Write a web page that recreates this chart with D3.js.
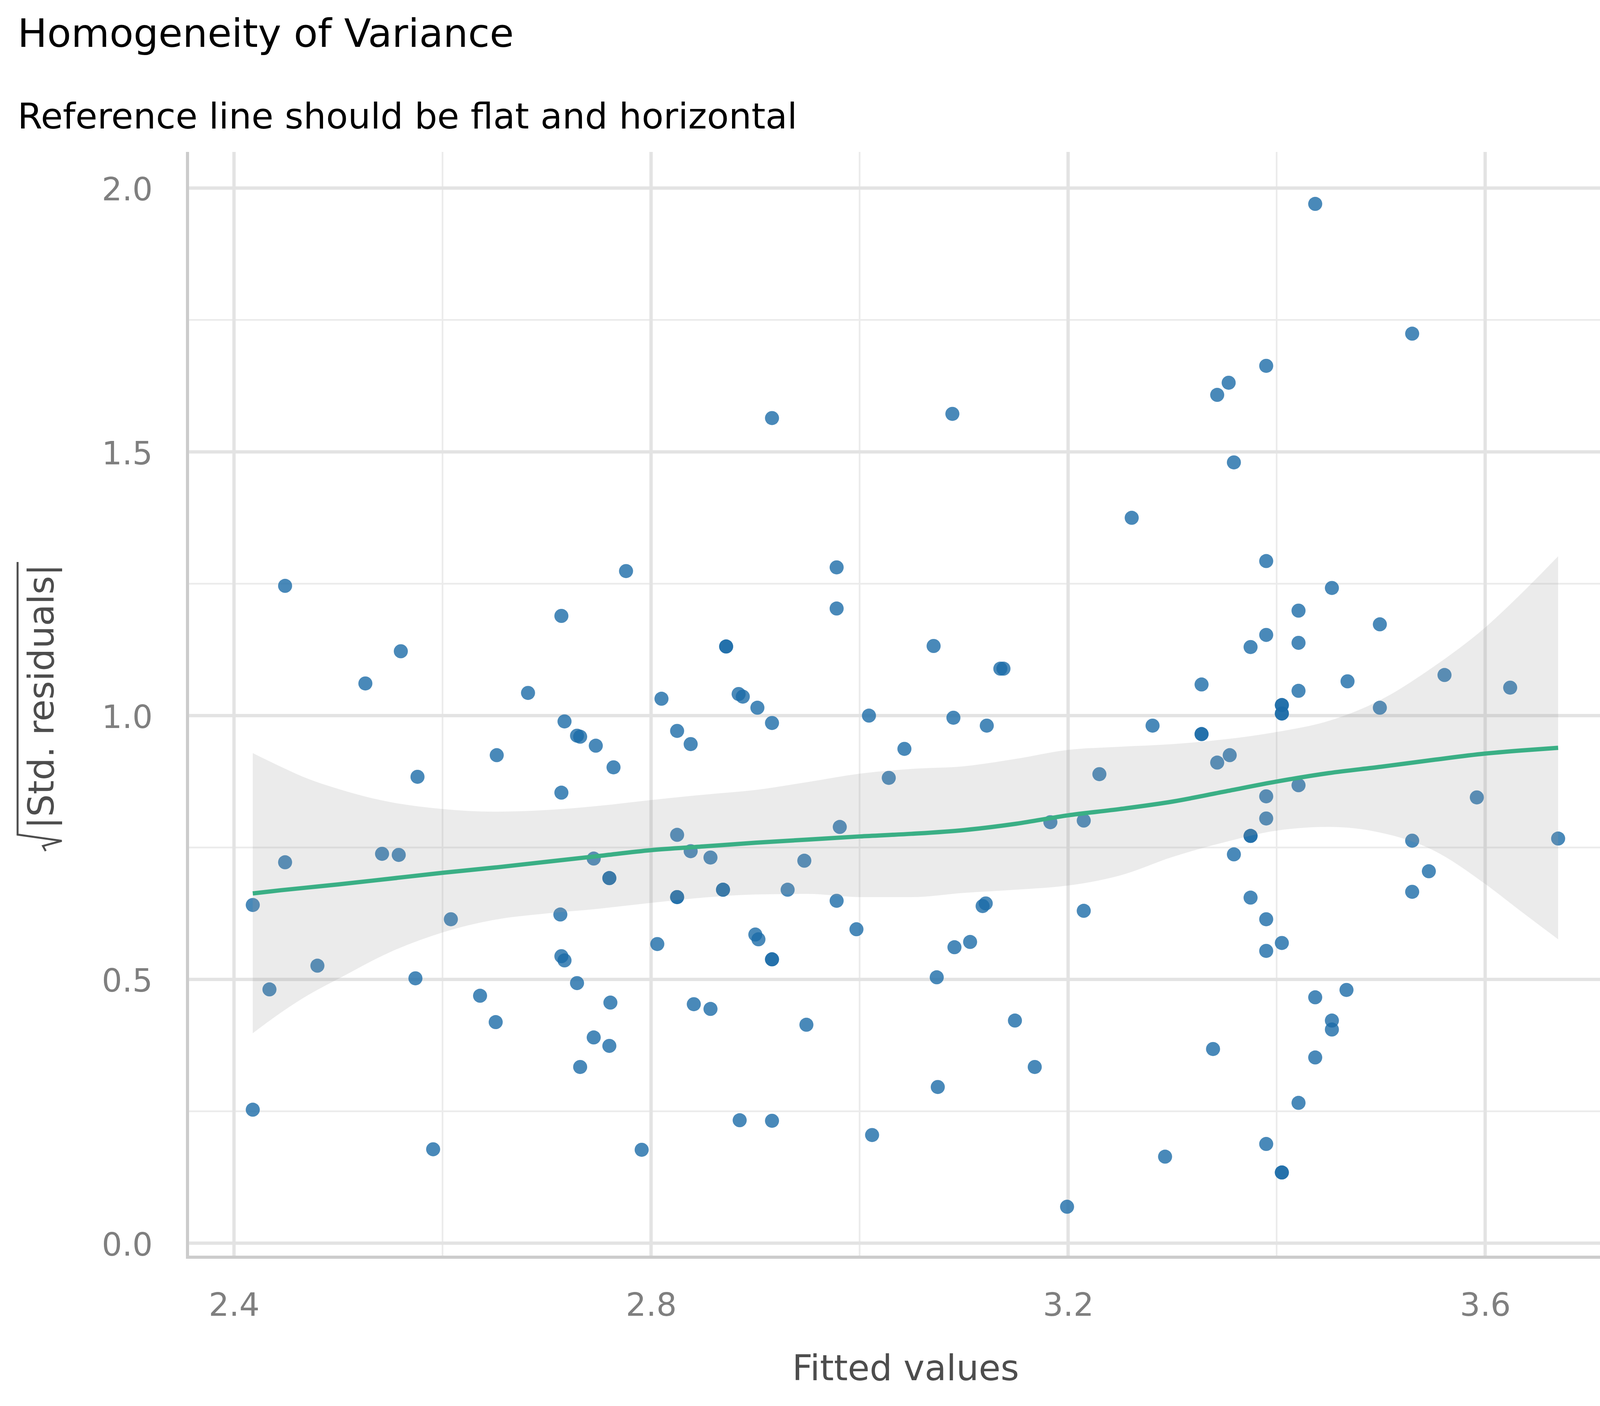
<!DOCTYPE html>
<html>
<head>
<meta charset="utf-8">
<script src="https://cdn.jsdelivr.net/npm/d3@7"></script>
<style>
  html, body { margin: 0; padding: 0; background: #ffffff; }
  svg { display: block; }
</style>
</head>
<body>
<script>
// ---------------- data ----------------
const fittedValues = [
  2.418, 2.418, 2.434, 2.449, 2.449, 2.480, 2.526, 2.542, 2.558, 2.560,
  2.574, 2.576, 2.591, 2.608, 2.636, 2.652, 2.651, 2.682, 2.714, 2.714,
  2.713, 2.714, 2.717, 2.717, 2.729, 2.732, 2.729, 2.732, 2.745, 2.745,
  2.747, 2.760, 2.760, 2.761, 2.760, 2.764, 2.776, 2.791, 2.806, 2.810,
  2.825, 2.825, 2.825, 2.825, 2.838, 2.838, 2.841, 2.857, 2.857, 2.869,
  2.869, 2.872, 2.872, 2.884, 2.888, 2.885, 2.900, 2.902, 2.903, 2.916,
  2.916, 2.916, 2.916, 2.916, 2.931, 2.947, 2.949, 2.978, 2.978, 2.978,
  2.981, 2.997, 3.009, 3.012, 3.028, 3.043, 3.071, 3.074, 3.075, 3.089,
  3.090, 3.091, 3.106, 3.118, 3.121, 3.122, 3.135, 3.138, 3.149, 3.168,
  3.183, 3.199, 3.215, 3.215, 3.230, 3.261, 3.281, 3.293, 3.328, 3.328,
  3.328, 3.339, 3.343, 3.343, 3.354, 3.355, 3.359, 3.359, 3.375, 3.375,
  3.375, 3.375, 3.390, 3.390, 3.390, 3.390, 3.390, 3.390, 3.390, 3.390,
  3.405, 3.405, 3.405, 3.405, 3.405, 3.405, 3.405, 3.421, 3.421, 3.421,
  3.421, 3.421, 3.437, 3.437, 3.437, 3.453, 3.453, 3.453, 3.468, 3.467,
  3.499, 3.499, 3.530, 3.530, 3.530, 3.546, 3.561, 3.592, 3.624, 3.670
];
const sqrtStdResiduals = [
  0.641, 0.253, 0.481, 1.246, 0.722, 0.526, 1.061, 0.738, 0.736, 1.122,
  0.502, 0.884, 0.178, 0.614, 0.469, 0.925, 0.419, 1.043, 1.189, 0.854,
  0.623, 0.544, 0.989, 0.536, 0.962, 0.960, 0.493, 0.334, 0.390, 0.729,
  0.943, 0.692, 0.692, 0.456, 0.374, 0.902, 1.274, 0.177, 0.567, 1.032,
  0.774, 0.971, 0.656, 0.656, 0.946, 0.743, 0.453, 0.731, 0.444, 0.670,
  0.670, 1.131, 1.131, 1.041, 1.036, 0.233, 0.585, 1.015, 0.576, 1.564,
  0.986, 0.538, 0.538, 0.232, 0.670, 0.725, 0.414, 1.281, 1.203, 0.649,
  0.789, 0.595, 1.000, 0.205, 0.882, 0.937, 1.132, 0.504, 0.296, 1.572,
  0.996, 0.561, 0.571, 0.639, 0.644, 0.981, 1.089, 1.089, 0.422, 0.334,
  0.798, 0.069, 0.801, 0.630, 0.889, 1.375, 0.981, 0.164, 1.059, 0.965,
  0.965, 0.368, 1.608, 0.911, 1.631, 0.925, 1.480, 0.737, 1.130, 0.772,
  0.772, 0.655, 1.663, 1.293, 1.153, 0.847, 0.805, 0.614, 0.554, 0.188,
  1.020, 1.020, 1.004, 1.004, 0.569, 0.134, 0.134, 1.199, 1.138, 1.047,
  0.868, 0.266, 1.970, 0.466, 0.352, 1.242, 0.422, 0.405, 1.065, 0.480,
  1.173, 1.015, 1.724, 0.763, 0.666, 0.705, 1.077, 0.845, 1.053, 0.767
];

// loess smooth
const smoothX    = [2.418, 2.445, 2.47, 2.5, 2.55, 2.6, 2.65, 2.7, 2.75, 2.8, 2.85, 2.9, 2.95, 3.0, 3.05, 3.1, 3.15, 3.2, 3.25, 3.3, 3.35, 3.4, 3.45, 3.5, 3.55, 3.6, 3.635, 3.67];
const smoothFit  = [0.663, 0.669, 0.674, 0.680, 0.691, 0.702, 0.712, 0.723, 0.734, 0.745, 0.752, 0.759, 0.765, 0.771, 0.776, 0.783, 0.795, 0.811, 0.823, 0.837, 0.856, 0.875, 0.891, 0.903, 0.916, 0.928, 0.934, 0.939];
const smoothLow  = [0.398, 0.437, 0.469, 0.501, 0.552, 0.589, 0.613, 0.625, 0.634, 0.645, 0.655, 0.661, 0.662, 0.656, 0.656, 0.664, 0.670, 0.678, 0.697, 0.732, 0.760, 0.782, 0.789, 0.778, 0.745, 0.681, 0.628, 0.576];
const smoothHigh = [0.929, 0.903, 0.881, 0.861, 0.836, 0.823, 0.818, 0.821, 0.829, 0.840, 0.850, 0.859, 0.874, 0.890, 0.899, 0.904, 0.918, 0.935, 0.941, 0.946, 0.955, 0.969, 0.990, 1.030, 1.092, 1.167, 1.232, 1.302];

const xMajorTicks = [2.4, 2.8, 3.2, 3.6];
const xMinorTicks = [2.6, 3.0, 3.4];
const yMajorTicks = [0.0, 0.5, 1.0, 1.5, 2.0];
const yMinorTicks = [0.25, 0.75, 1.25, 1.75];

const titleText = "Homogeneity of Variance";
const subtitleText = "Reference line should be flat and horizontal";
const xTitleText = "Fitted values";
const yTitleText = "|Std. residuals|";

// ---------------- layout ----------------
const W = 4200, H = 3600;
const panel = { left: 480, right: 4157, top: 389, bottom: 3219 };
const xDomain = [2.3554, 3.7330];
const yDomain = [-0.0266, 2.0685];
const FONT = "'DejaVu Sans', 'Liberation Sans', sans-serif";

const svg = d3.select("body").append("svg")
  .attr("width", W).attr("height", H)
  .attr("viewBox", `0 0 ${W} ${H}`);

svg.append("rect").attr("width", W).attr("height", H).attr("fill", "#ffffff");

const x = d3.scaleLinear().domain(xDomain).range([panel.left, panel.right]);
const y = d3.scaleLinear().domain(yDomain).range([panel.bottom, panel.top]);

// ---------------- grid ----------------
const grid = svg.append("g");
grid.selectAll("line.xminor").data(xMinorTicks).join("line")
  .attr("x1", d => x(d)).attr("x2", d => x(d))
  .attr("y1", panel.top).attr("y2", panel.bottom)
  .attr("stroke", "#ebebeb").attr("stroke-width", 4.3);
grid.selectAll("line.yminor").data(yMinorTicks).join("line")
  .attr("x1", panel.left).attr("x2", panel.right)
  .attr("y1", d => y(d)).attr("y2", d => y(d))
  .attr("stroke", "#ebebeb").attr("stroke-width", 4.3);
grid.selectAll("line.xmajor").data(xMajorTicks).join("line")
  .attr("x1", d => x(d)).attr("x2", d => x(d))
  .attr("y1", panel.top).attr("y2", panel.bottom)
  .attr("stroke", "#e3e3e3").attr("stroke-width", 8.5);
grid.selectAll("line.ymajor").data(yMajorTicks).join("line")
  .attr("x1", panel.left).attr("x2", panel.right)
  .attr("y1", d => y(d)).attr("y2", d => y(d))
  .attr("stroke", "#e3e3e3").attr("stroke-width", 8.5);

// ---------------- points ----------------
const pts = fittedValues.map((v, i) => ({ fx: v, r: sqrtStdResiduals[i] }));
svg.append("g").selectAll("circle").data(pts).join("circle")
  .attr("cx", d => x(d.fx)).attr("cy", d => y(d.r))
  .attr("r", 18)
  .attr("fill", "#1b6ca8").attr("fill-opacity", 0.8);

// ---------------- smooth ----------------
const smooth = smoothX.map((v, i) => ({ sx: v, fit: smoothFit[i], lo: smoothLow[i], hi: smoothHigh[i] }));
svg.append("path").datum(smooth)
  .attr("d", d3.area().x(d => x(d.sx)).y0(d => y(d.lo)).y1(d => y(d.hi)).curve(d3.curveMonotoneX))
  .attr("fill", "#999999").attr("fill-opacity", 0.2);
svg.append("path").datum(smooth)
  .attr("d", d3.line().x(d => x(d.sx)).y(d => y(d.fit)).curve(d3.curveMonotoneX))
  .attr("fill", "none").attr("stroke", "#3aaf85").attr("stroke-width", 11);

// ---------------- axis lines ----------------
svg.append("line")
  .attr("x1", panel.left).attr("x2", panel.left)
  .attr("y1", panel.top).attr("y2", panel.bottom + 4)
  .attr("stroke", "#cccccc").attr("stroke-width", 8);
svg.append("line")
  .attr("x1", panel.left - 4).attr("x2", panel.right)
  .attr("y1", panel.bottom).attr("y2", panel.bottom)
  .attr("stroke", "#cccccc").attr("stroke-width", 8);

// ---------------- axes (labels) ----------------
const fmt = d3.format(".1f");
const xAxis = svg.append("g")
  .attr("transform", `translate(0,${panel.bottom})`)
  .call(d3.axisBottom(x).tickValues(xMajorTicks).tickFormat(fmt).tickSize(0));
xAxis.select(".domain").remove();
xAxis.selectAll("text")
  .attr("y", 150).attr("dy", null)
  .attr("font-family", FONT).attr("font-size", 82).attr("fill", "#7f7f7f");

const yAxis = svg.append("g")
  .attr("transform", `translate(${panel.left},0)`)
  .call(d3.axisLeft(y).tickValues(yMajorTicks).tickFormat(fmt).tickSize(0));
yAxis.select(".domain").remove();
yAxis.selectAll("text")
  .attr("x", -89).attr("dy", "0.38em")
  .attr("font-family", FONT).attr("font-size", 82).attr("fill", "#7f7f7f");
svg.selectAll(".tick line").remove();

// ---------------- titles ----------------
svg.append("text").attr("x", 45).attr("y", 120)
  .attr("font-family", FONT).attr("font-size", 100.6).attr("fill", "#000000")
  .text(titleText);
svg.append("text").attr("x", 45).attr("y", 329)
  .attr("font-family", FONT).attr("font-size", 91.5).attr("fill", "#000000")
  .text(subtitleText);

svg.append("text").attr("x", (panel.left + panel.right) / 2).attr("y", 3534)
  .attr("text-anchor", "middle")
  .attr("font-family", FONT).attr("font-size", 91).attr("fill", "#4d4d4d")
  .text(xTitleText);

const yTitle = svg.append("g").attr("transform", "translate(137,1783) rotate(-90)");
yTitle.append("text").attr("x", 0).attr("y", 0)
  .attr("text-anchor", "middle")
  .attr("font-family", FONT).attr("font-size", 91).attr("fill", "#4d4d4d")
  .text(yTitleText);
yTitle.append("path")
  .attr("d", "M344,-92 L-354,-92 L-370,21 L-383,-27 L-396,-20")
  .attr("fill", "none").attr("stroke", "#4d4d4d").attr("stroke-width", 5)
  .attr("stroke-linejoin", "miter");
</script>
</body>
</html>
